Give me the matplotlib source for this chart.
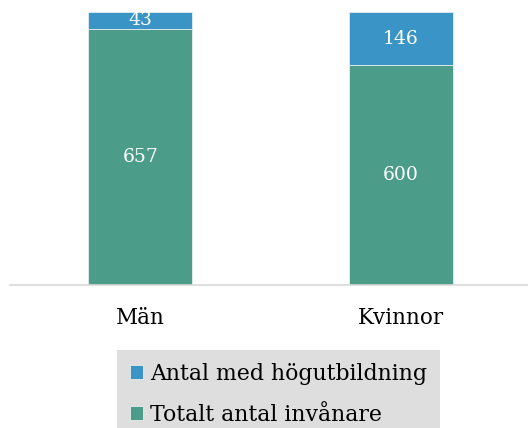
import matplotlib
matplotlib.use('Agg')
from matplotlib import pyplot as plt
import numpy as np

plt.rcParams['font.family'] = ['DejaVu Serif']

categories = ['Män', 'Kvinnor']
totalt = [657, 600]
hogutb = [43, 146]
series_names = ['Antal med högutbildning', 'Totalt antal invånare']

blue = '#3b94c6'
green = '#4c9c8a'

tot = np.array(totalt) + np.array(hogutb)
share_green = np.array(totalt) / tot
share_blue = np.array(hogutb) / tot

fig = plt.figure(figsize=(5.28, 4.28), dpi=100)
ax = fig.add_axes([10 / 528, (428 - 285) / 428, 521 / 528, 273 / 428])

x = np.arange(len(categories))
b1 = ax.bar(x, share_green, 0.40, color=green, edgecolor='#e6eeec', linewidth=0.6,
            label=series_names[1])
b2 = ax.bar(x, share_blue, 0.40, bottom=share_green, color=blue, edgecolor='#e6eeec',
            linewidth=0.6, label=series_names[0])

for i in range(len(categories)):
    ax.text(x[i], share_green[i] / 2, str(totalt[i]), ha='center', va='center',
            color='white', fontsize=13.5)
    ax.text(x[i], share_green[i] + share_blue[i] / 2, str(hogutb[i]), ha='center',
            va='center', color='white', fontsize=13.5)

ax.set_xlim(-0.5, 1.5)
ax.set_ylim(0, 1)
ax.set_yticks([])
ax.set_xticks(x)
ax.set_xticklabels(categories, fontsize=15.5)
ax.tick_params(axis='x', length=0, pad=16)
for s in ['top', 'right', 'left']:
    ax.spines[s].set_visible(False)
ax.spines['bottom'].set_color('#d9d9d9')
ax.spines['bottom'].set_linewidth(1.2)

leg = fig.legend([b2, b1], series_names, loc='upper left',
                 bbox_to_anchor=(117 / 528, (428 - 350) / 428),
                 fontsize=15.8, frameon=True, fancybox=False,
                 facecolor='#dedede', edgecolor='none', framealpha=1,
                 handlelength=0.6, handleheight=0.6, handletextpad=0.3,
                 labelspacing=0.85, borderaxespad=0, borderpad=0.6)

fig.savefig('out.png', dpi=100)
